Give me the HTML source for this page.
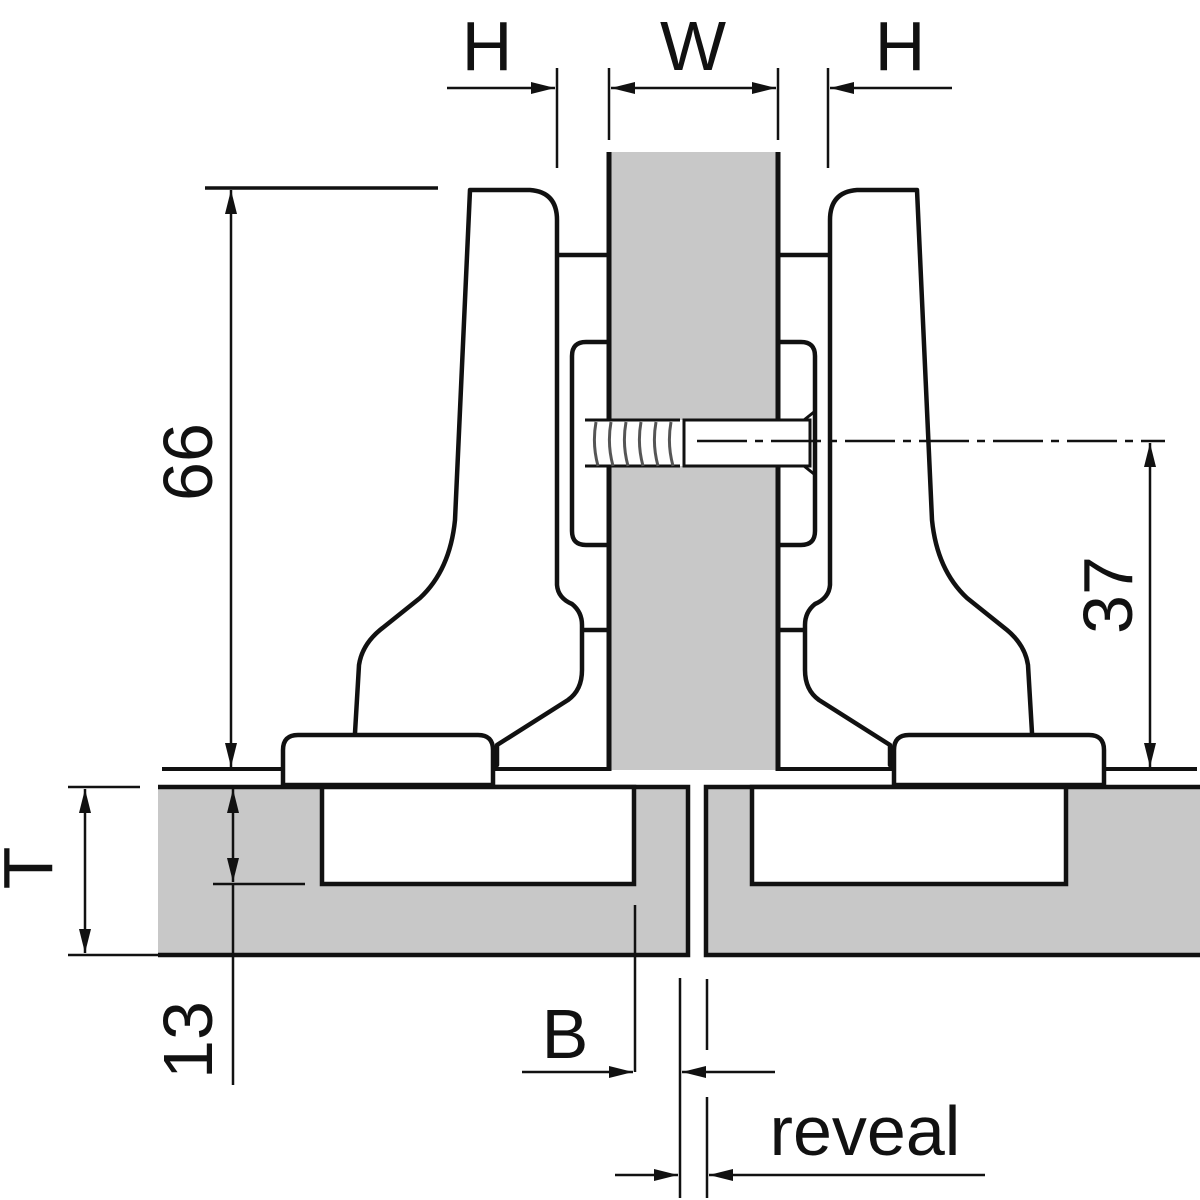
<!DOCTYPE html>
<html><head><meta charset="utf-8"><style>html,body{margin:0;padding:0;background:#fff}svg{display:block}</style></head>
<body>
<svg width="1200" height="1200" viewBox="0 0 1200 1200" xmlns="http://www.w3.org/2000/svg">
<defs>
<marker id="a" viewBox="0 0 24 12" refX="24" refY="6" markerWidth="24" markerHeight="12" markerUnits="userSpaceOnUse" orient="auto-start-reverse"><path d="M0,0 L24,6 L0,12 Z" fill="#111"/></marker>
</defs>
<g font-family="Liberation Sans, sans-serif" fill="#111" font-size="70">
<text x="487" y="70" text-anchor="middle">H</text>
<text x="693" y="70" text-anchor="middle">W</text>
<text x="900" y="70" text-anchor="middle">H</text>
<text transform="translate(212,462) rotate(-90)" text-anchor="middle">66</text>
<text transform="translate(1132,595) rotate(-90)" text-anchor="middle">37</text>
<text transform="translate(52,868) rotate(-90)" text-anchor="middle">T</text>
<text transform="translate(212,1040) rotate(-90)" text-anchor="middle">13</text>
<text x="565" y="1058" text-anchor="middle">B</text>
<text x="865" y="1155" text-anchor="middle">reveal</text>
</g>
<rect x="158" y="787" width="530" height="168" fill="#c8c8c8"/>
<rect x="706" y="787" width="495" height="168" fill="#c8c8c8"/>
<g stroke="#111" stroke-width="4.5" fill="none">
<path d="M158,787 H688 V955 H158"/>
<path d="M1200,787 H706 V955 H1200"/>
</g>
<path d="M322,787 V884 H634 V787 Z" fill="#fff" stroke="#111" stroke-width="4.5"/>
<path d="M752,787 V884 H1066 V787 Z" fill="#fff" stroke="#111" stroke-width="4.5"/>
<rect x="609" y="152" width="169" height="618" fill="#c8c8c8"/>
<g stroke="#111" stroke-width="5"><line x1="609" y1="152" x2="609" y2="771"/><line x1="778" y1="152" x2="778" y2="771"/></g>
<g stroke="#111" stroke-width="4"><line x1="162" y1="769" x2="609" y2="769"/><line x1="778" y1="769" x2="1197" y2="769"/></g>
<g id="hinge" stroke="#111" stroke-width="4.5" fill="#fff" stroke-linejoin="round">
<path d="M355,733 L359,665 Q362,645 380,630 L420,598 Q450,570 455,520 L470,190 H530 Q557,192 557,220 V585 Q558,598 572,604 Q582,612 582,625 V670 Q582,690 568,700 L497,745 L497,765 L355,765 Z"/>
<path d="M283,785 V750 Q283,735 298,735 H478 Q493,735 493,750 V785 Z"/>
<line x1="557" y1="255" x2="609" y2="255"/>
<line x1="582" y1="630" x2="609" y2="630"/>
<path d="M609,342 H586 Q572,342 572,356 V531 Q572,545 586,545 H609" fill="none"/>
</g>
<use href="#hinge" transform="translate(1387,0) scale(-1,1)"/>
<path d="M577,410 L590,420 H690 V466 H590 L577,476 Z" fill="#fff" stroke="none"/>
<path d="M585,420 L590,420 H680 M585,466 H680" stroke="#111" stroke-width="3" fill="none"/>
<rect x="684" y="420" width="126" height="46" fill="#fff" stroke="#111" stroke-width="3"/>
<line x1="804" y1="420" x2="814" y2="412" stroke="#111" stroke-width="3"/>
<line x1="804" y1="466" x2="814" y2="474" stroke="#111" stroke-width="3"/>
<g stroke="#555" stroke-width="3" fill="none">
<path d="M596,422 q-4,22 2,44 M611,422 q-4,22 2,44 M626,422 q-4,22 2,44 M641,422 q-4,22 2,44 M656,422 q-4,22 2,44 M671,422 q-4,22 2,44"/>
</g>
<line x1="697" y1="441" x2="1165" y2="441" stroke="#111" stroke-width="2.5" stroke-dasharray="50,8,8,8"/>
<g stroke="#111" stroke-width="2.5" fill="none">
<line x1="557" y1="68" x2="557" y2="168"/>
<line x1="609" y1="68" x2="609" y2="140"/>
<line x1="778" y1="68" x2="778" y2="140"/>
<line x1="828" y1="68" x2="828" y2="168"/>
<line x1="447" y1="88" x2="555" y2="88" marker-end="url(#a)"/>
<line x1="611" y1="88" x2="776" y2="88" marker-start="url(#a)" marker-end="url(#a)"/>
<line x1="952" y1="88" x2="830" y2="88" marker-end="url(#a)"/>
<line x1="205" y1="188" x2="438" y2="188" stroke-width="3.5"/>
<line x1="231" y1="190" x2="231" y2="767" marker-start="url(#a)" marker-end="url(#a)"/>
<line x1="1150" y1="443" x2="1150" y2="767" marker-start="url(#a)" marker-end="url(#a)"/>
<line x1="68" y1="787" x2="140" y2="787"/>
<line x1="68" y1="955" x2="160" y2="955"/>
<line x1="85" y1="789" x2="85" y2="953" marker-start="url(#a)" marker-end="url(#a)"/>
<line x1="233" y1="789" x2="233" y2="882" marker-start="url(#a)" marker-end="url(#a)"/>
<line x1="233" y1="884" x2="233" y2="1085"/>
<line x1="213" y1="884" x2="305" y2="884"/>
<line x1="635" y1="905" x2="635" y2="1072"/>
<line x1="522" y1="1072" x2="633" y2="1072" marker-end="url(#a)"/>
<line x1="680" y1="978" x2="680" y2="1198"/>
<line x1="707" y1="979" x2="707" y2="1050"/>
<line x1="707" y1="1097" x2="707" y2="1198"/>
<line x1="775" y1="1072" x2="682" y2="1072" marker-end="url(#a)"/>
<line x1="615" y1="1175" x2="678" y2="1175" marker-end="url(#a)"/>
<line x1="985" y1="1175" x2="709" y2="1175" marker-end="url(#a)"/>
</g>
</svg>
</body></html>
